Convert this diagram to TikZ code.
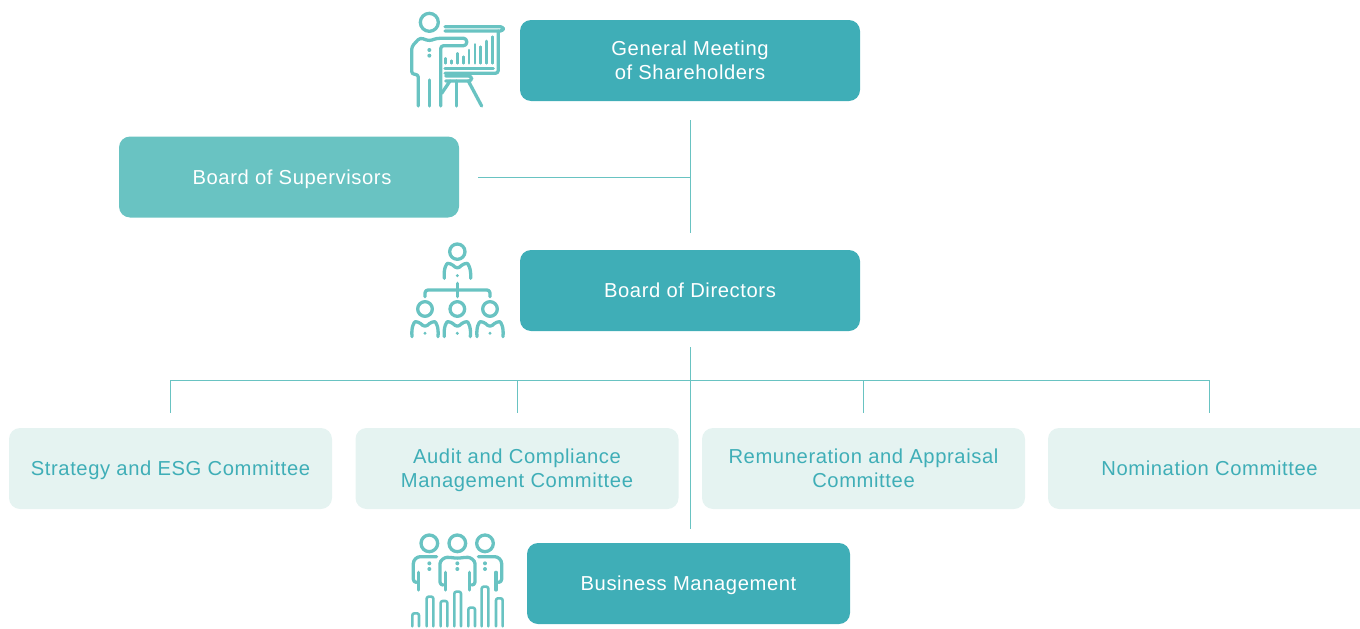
\documentclass[tikz,border=0pt]{standalone}
\usepackage{fontspec}
\setmainfont[LetterSpace=3]{Liberation Sans}
\definecolor{darkteal}{HTML}{3FAEB7}
\definecolor{midteal}{HTML}{69C3C2}
\definecolor{paleteal}{HTML}{E5F3F1}
\tikzset{
    box/.style={rounded corners=11pt, minimum width=340pt, minimum height=81pt, align=center,
        font=\fontsize{20.2pt}{24pt}\selectfont, inner sep=0pt, text depth=0pt},
    mainbox/.style={box, fill=darkteal, text=white},
    sidebox/.style={box, fill=midteal, text=white},
    committee/.style={box, fill=paleteal, text=darkteal, minimum width=323pt},
    link/.style={draw=midteal, line width=1pt},
    icon/.style={draw=midteal, line width=3.3pt, line cap=round, line join=round, rounded corners=3pt},
    iconbar/.style={icon, line width=2.6pt, rounded corners=2pt},
    icondot/.style={fill=midteal, draw=none}
}
\begin{document}
\begin{tikzpicture}[x=1pt, y=-1pt]

    \useasboundingbox (0, 0) rectangle (1360, 629);

    \path node (meeting) [mainbox] at (690, 60.5) {General Meeting\\of Shareholders};
    \path node (supervisors) [sidebox] at (289, 177) {\hspace*{6pt}Board of Supervisors};
    \path node (directors) [mainbox] at (690, 290.5) {Board of Directors};
    \path node (strategy) [committee] at (170.5, 468.5) {Strategy and ESG Committee};
    \path node (audit) [committee] at (517, 468.5) {Audit and Compliance\\Management Committee};
    \path node (remuneration) [committee] at (863.5, 468.5) {Remuneration and Appraisal\\Committee};
    \path node (nomination) [committee] at (1209.5, 468.5) {Nomination Committee};
    \path node (management) [mainbox, minimum width=323pt] at (688.5, 583.5) {Business Management};

    \coordinate (bus) at (690, 380.5);

    \draw[link, shorten <=19pt, shorten >=17pt] (meeting.south) -- (directors.north);
    \draw[link, shorten <=19pt] (supervisors.east) -- (supervisors.east -| meeting.south);
    \draw[link, shorten <=16pt, shorten >=14pt] (directors.south) -- (directors.south |- management.north);
    \draw[link, shorten <=15pt] (strategy.north) |- (bus);
    \draw[link, shorten <=15pt] (audit.north) |- (bus);
    \draw[link, shorten <=15pt] (remuneration.north) |- (bus);
    \draw[link, shorten <=15pt] (nomination.north) |- (bus);

    % presenter
    \begin{scope}[shift={(400, 5)}, x=0.3333pt, y=-0.3333pt]
        \draw[icon] (88, 52) circle (27);
        \draw[icon] (55, 303) -- (55, 208) -- (35, 208) -- (35, 125) -- (60, 98) -- (88, 108) -- (110, 100) -- (200, 100) -- (200, 122) -- (122, 122) -- (122, 303);
        \draw[icon] (88, 225) -- (88, 303);
        \fill[icondot] (88, 135) circle (6) (88, 152) circle (6);
        \draw[icon] (135, 65) -- (310, 65) -- (310, 78) -- (135, 78);
        \draw[icon] (295, 78) -- (295, 205) -- (135, 205);
        \draw[icon] (135, 190) -- (280, 190);
        \draw[icon] (137, 213) -- (215, 213) -- (215, 228) -- (137, 228);
        \draw[icon] (170, 228) -- (170, 303);
        \draw[icon] (150, 228) -- (125, 265);
        \draw[icon] (205, 228) -- (245, 303);
        \foreach \x/\h in {137/160, 155/167, 172/145, 190/155, 207/135, 225/118, 242/125, 260/108, 278/95}
            \draw[iconbar] (\x, 175) -- (\x, \h);
    \end{scope}

    % hierarchy
    \begin{scope}[shift={(400, 235)}, x=0.3333pt, y=-0.3333pt]
        \draw[icon] (172, 50) circle (23);
        \draw[icon] (133, 130) .. controls (130, 100) and (140, 85) .. (152, 85) -- (172, 102) -- (192, 85) .. controls (204, 85) and (214, 100) .. (212, 130);
        \fill[icondot] (172, 122) circle (5);
        \draw[icon] (172, 145) -- (172, 185);
        \draw[icon] (75, 185) -- (75, 165) -- (270, 165) -- (270, 185);
        \foreach \x in {75, 172, 270} {
            \draw[icon] (\x, 222) circle (22);
            \draw[icon] (\x - 39, 305) .. controls (\x - 42, 275) and (\x - 32, 260) .. (\x - 20, 260) -- (\x, 277) -- (\x + 20, 260) .. controls (\x + 32, 260) and (\x + 42, 275) .. (\x + 39, 305);
            \fill[icondot] (\x, 295) circle (5);
        }
    \end{scope}

    % team
    \begin{scope}[shift={(400, 525)}, x=0.3333pt, y=-0.3333pt]
        \foreach \x in {88, 172, 255} {
            \draw[icon] (\x, 55) circle (25);
            \fill[icondot] (\x, 115) circle (6) (\x, 132) circle (6);
        }
        \draw[icon] (128, 180) -- (120, 180) -- (120, 125) .. controls (120, 105) and (135, 97) .. (150, 97) -- (172, 100) -- (195, 97) .. controls (210, 97) and (225, 105) .. (225, 125) -- (225, 180) -- (216, 180);
        \draw[icon] (137, 142) -- (137, 195);
        \draw[icon] (208, 142) -- (208, 195);
        \draw[icon] (110, 95) -- (70, 95) .. controls (50, 95) and (40, 105) .. (40, 125) -- (40, 172) -- (48, 172);
        \draw[icon] (55, 142) -- (55, 195);
        \draw[icon] (235, 95) -- (275, 95) .. controls (295, 95) and (305, 105) .. (305, 125) -- (305, 172) -- (297, 172);
        \draw[icon] (288, 142) -- (288, 195);
        \foreach \x/\h in {37/265, 80/215, 122/228, 163/200, 205/248, 245/185, 288/220}
            \draw[iconbar] (\x, 304) -- (\x, \h) -- (\x + 20, \h) -- (\x + 20, 304);
    \end{scope}

\end{tikzpicture}
\end{document}
